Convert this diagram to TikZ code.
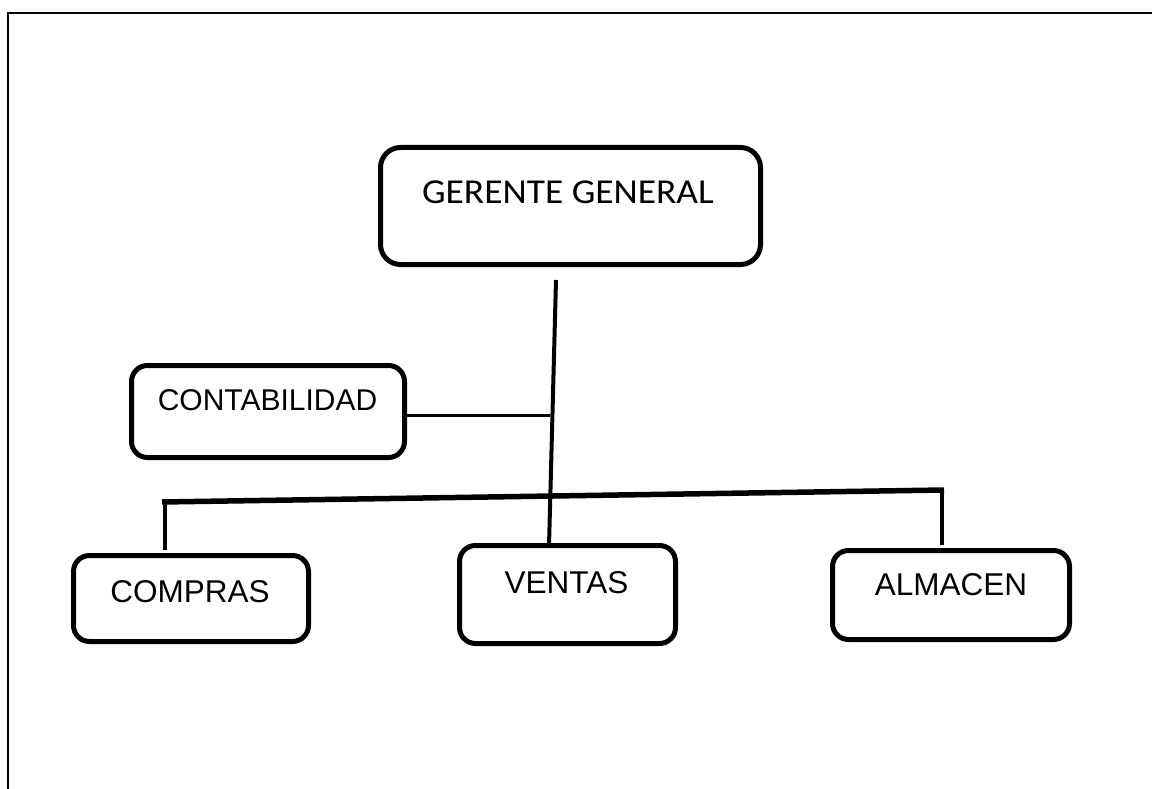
\documentclass[tikz,border=0pt]{standalone}
\usepackage{fontspec}
\newfontfamily\arialf{Liberation Sans}
\newfontfamily\calib{Carlito}
\begin{document}
\begin{tikzpicture}[x=1pt,y=-1pt,
  orgbox/.style={draw=black, line width=5pt, fill=white, rounded corners=16pt, inner sep=0pt},
  lbl/.style={anchor=base, inner sep=0pt, font=\arialf\fontsize{31.5}{31.5}\selectfont},
  conn/.style={draw=black, line width=3.5pt}]
\useasboundingbox (0,0) rectangle (1152,789);
\fill[white] (0,0) rectangle (1152,789);
% frame
\draw[line width=2.3pt] (8,789) -- (8,13) -- (1152,13);
% boxes
\node[orgbox, rounded corners=20pt, minimum width=380pt, minimum height=117pt] (gg) at (570.5,206) {};
\node[orgbox, minimum width=273pt, minimum height=92pt] (cont) at (268,411.5) {};
\node[orgbox, minimum width=235pt, minimum height=86pt] (comp) at (191,598.5) {};
\node[orgbox, minimum width=216pt, minimum height=98pt] (vent) at (567.5,594.5) {};
\node[orgbox, minimum width=237pt, minimum height=89pt] (alm) at (951,595) {};
% labels
\node[anchor=base, inner sep=0pt, font=\calib\fontsize{35}{35}\selectfont] (ggt) at (568,204) {\scalebox{1.07}[1]{GERENTE GENERAL}};
\node[lbl, font=\arialf\fontsize{30}{30}\selectfont] (contt) at (267.5,410) {CONTABILIDAD};
\node[lbl] (compt) at (190,602) {COMPRAS};
\node[lbl] (ventt) at (566.5,593) {VENTAS};
\node[lbl] (almt) at (951,595) {ALMACEN};
% connector coordinates
\coordinate (gtop) at (556,280);
\coordinate (gbot) at (549,546);
\coordinate (cj) at (550,415);
\coordinate (bl) at (162,502);
\coordinate (br) at (944,490);
\coordinate (dl1) at (165,502);
\coordinate (dl2) at (165,550);
\coordinate (dr1) at (942,491);
\coordinate (dr2) at (942,545);
% connectors
\draw[conn, line width=4pt] (gtop) -- (gbot);
\draw[conn, line width=3pt] (cont.east |- cj) -- (cj);
\draw[conn, line width=5.5pt] (bl) -- (br);
\draw[conn] (dl1) -- (dl2);
\draw[conn] (dr1) -- (dr2);
\end{tikzpicture}
\end{document}
